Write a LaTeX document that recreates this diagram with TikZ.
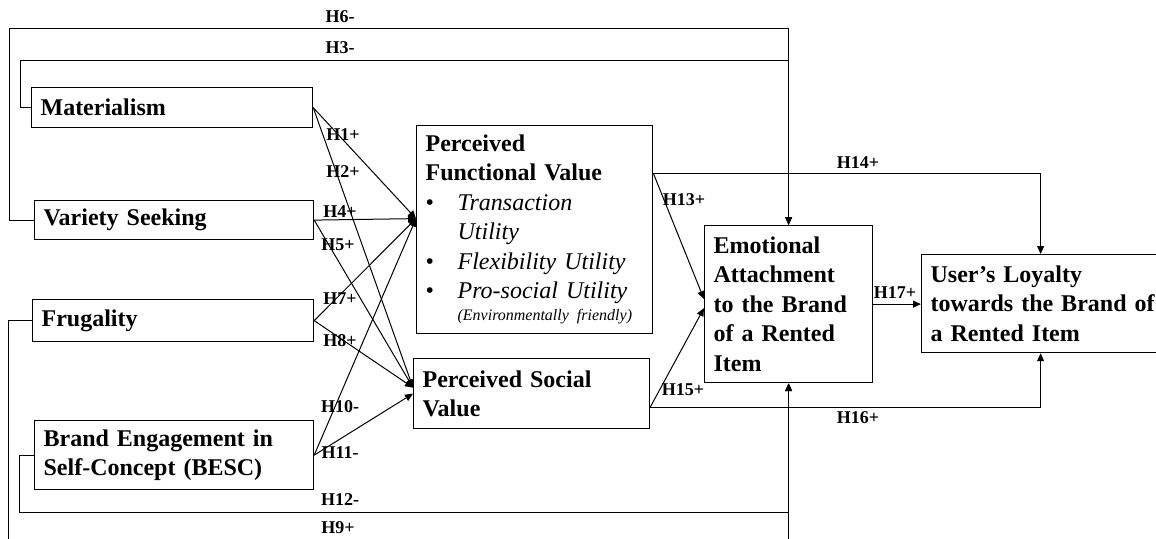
\documentclass[tikz,border=0pt]{standalone}
\usepackage{fontspec}
\setmainfont{Liberation Serif}
\usetikzlibrary{arrows.meta,calc}

% bullet for the utility items
\newcommand{\utilbullet}{\makebox[16pt][l]{\mdseries\textbullet}}

\tikzset{
    construct/.style={draw, line width=0.6pt, anchor=north west, align=left,
        inner xsep=4.5pt, inner ysep=0pt, font=\fontsize{12}{14.75}\selectfont\bfseries},
    hyp/.style={inner sep=0pt, font=\fontsize{9}{10}\selectfont\bfseries},
    hlink/.style={->, line width=0.5pt},
}

\begin{document}
\begin{tikzpicture}[x=0.5pt, y=-0.5pt, >={Triangle[length=4pt,width=3.5pt]}]
    % canvas: pixel grid, y pointing down
    \useasboundingbox (0,0) rectangle (1156,538);
    \clip (0,0) rectangle (1156,538);

    % Antecedents (left column)
    \node[construct, minimum height=20pt, text width=131.5pt] (mat) at (31,87) {Materialism};
    \node[construct, minimum height=19.5pt, text width=130.5pt] (var) at (34,200) {Variety Seeking};
    \node[construct, minimum height=21pt, text width=131.5pt] (fru) at (32,299) {Frugality};
    \node[construct, minimum height=34.5pt, text width=130.5pt] (besc) at (34,420)
        {Brand Engagement in\\ Self-Concept (BESC)};

    % Perceived values (middle column)
    \node[construct, minimum height=104pt, text width=109pt] (pfv) at (416,125) {Perceived\\
        Functional Value\\
        \utilbullet{\mdseries\itshape Transaction}\\
        \hspace*{16pt}{\mdseries\itshape Utility}\\
        \utilbullet{\mdseries\itshape Flexibility Utility}\\
        \utilbullet{\mdseries\itshape Pro-social Utility}\\[-3.75pt]
        \hspace*{16pt}{\mdseries\itshape\fontsize{8}{10}\selectfont (Environmentally friendly)}};
    \node[construct, minimum height=35pt, text width=109pt] (psv) at (413,358)
        {Perceived Social\\ Value};

    % Outcomes (right)
    \node[construct, minimum height=78.5pt, text width=75pt] (ea) at (704,225)
        {Emotional\\ Attachment\\ to the Brand\\ of a Rented\\ Item};
    \node[construct, minimum height=49pt, text width=110pt] (ul) at (921,254)
        {User's Loyalty\\ \mbox{towards the Brand of}\\ a Rented Item};

    % entry / exit points on the boxes
    \coordinate (pfvin) at ($(pfv.west)+(0,-11)$);
    \coordinate (psvin) at ($(psv.west)+(0,-6)$);
    \coordinate (pfvout) at ($(pfv.north east)+(0,48)$);
    \coordinate (psvout) at ($(psv.south east)+(0,-22)$);

    % fan into the perceived values
    \draw[hlink] (mat.east) -- (pfvin);
    \draw[hlink] (mat.east) -- (psvin);
    \draw[hlink] (var.east) -- (pfvin);
    \draw[hlink] (var.east) -- (psvin);
    \draw[hlink] (fru.east) -- (pfvin);
    \draw[hlink] (fru.east) -- (psvin);
    \draw[hlink] (besc.east) -- (pfvin);
    \draw[hlink] (besc.east) -- (psv.west);

    % direct paths to emotional attachment (round the left side)
    \draw[hlink] (var.west) -| (9,28) -| (ea.north);
    \draw[hlink] (mat.west) -| (20,60) -| (ea.north);
    \draw[hlink] (fru.west) -| (8,548) -| (ea.south);
    \draw[hlink] (besc.west) -| (19,512) -| (ea.south);

    % values -> outcomes
    \draw[hlink] (pfvout) -- ($(ea.west)+(0,-5)$);
    \draw[hlink] (psvout) -- ($(ea.west)+(0,4)$);
    \draw[hlink] (pfvout) -| (ul.north);
    \draw[hlink] (psvout) -| (ul.south);
    \draw[hlink] (ea.east) -- (ea.east -| ul.west);

    % hypothesis labels
    \node[hyp] (h6) at (340,17) {H6-};
    \node[hyp] (h3) at (340,48) {H3-};
    \node[hyp] (h1) at (343,135) {H1+};
    \node[hyp] (h2) at (343,172) {H2+};
    \node[hyp] (h4) at (340,212) {H4+};
    \node[hyp] (h5) at (338,245) {H5+};
    \node[hyp] (h7) at (340,299) {H7+};
    \node[hyp] (h8) at (340,341) {H8+};
    \node[hyp] (h10) at (340,407) {H10-};
    \node[hyp] (h11) at (340,453) {H11-};
    \node[hyp] (h12) at (340,500) {H12-};
    \node[hyp] (h9) at (338,528) {H9+};
    \node[hyp] (h13) at (684,200) {H13+};
    \node[hyp] (h14) at (858,163) {H14+};
    \node[hyp] (h15) at (683,390) {H15+};
    \node[hyp] (h16) at (858,418) {H16+};
    \node[hyp] (h17) at (895,293) {H17+};
\end{tikzpicture}
\end{document}
